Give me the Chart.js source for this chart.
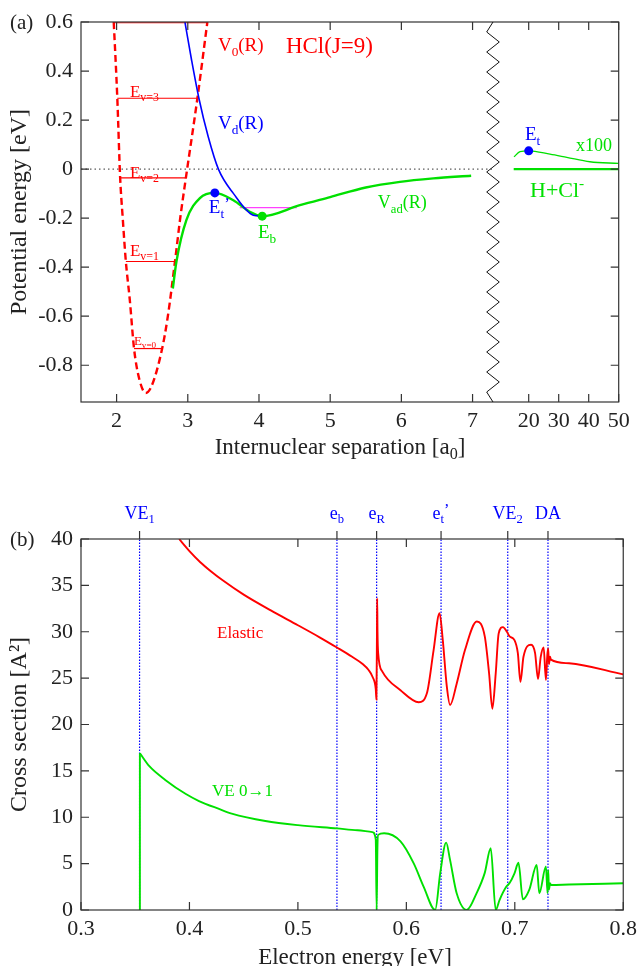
<!DOCTYPE html>
<html>
<head>
<meta charset="utf-8">
<title>HCl potentials and cross sections</title>
<script src="https://cdn.jsdelivr.net/npm/chart.js@4.4.1/dist/chart.umd.min.js"></script>
<style>
  html, body { margin: 0; padding: 0; background: #fff; }
  #wrap { position: relative; width: 643px; height: 966px; overflow: hidden; }
  .box { position: absolute; left: 0; width: 643px; }
  #boxA { top: 0; height: 480px; }
  #boxB { top: 480px; height: 486px; }
</style>
</head>
<body>
<div id="wrap">
  <div class="box" id="boxA"><canvas id="chartA"></canvas></div>
  <div class="box" id="boxB"><canvas id="chartB"></canvas></div>
</div>
<script>
// ---------- look ----------
const SERIF = "'Liberation Serif', 'Times New Roman', serif";
const INK = "#222222";
const FRAME = "#333333";
const RED = "#ff0000";
const GREEN = "#00e000";
const BLUE = "#0000ff";
const MAGENTA = "#ff40ff";
const TICK = 8;

Chart.defaults.font.family = SERIF;
Chart.defaults.color = INK;

// ==========================================
// (a) potential curves: R [a0], energy [eV]
// ==========================================
const xLeftMin = 1.5, xLeftMax = 7.287;   // axis before the break
const xFarMin = 8.1, xFarMax = 50;         // axis after the break
const xTicksA = [2, 3, 4, 5, 6, 7];
const xTicksFar = [20, 30, 40, 50];
const yTicksA = [-0.8, -0.6, -0.4, -0.2, 0, 0.2, 0.4, 0.6];
const yTickLabelsA = ["-0.8", "-0.6", "-0.4", "-0.2", "0", "0.2", "0.4", "0.6"];

// V0(R), neutral HCl(J=9)
const v0R = [1.96, 2.01, 2.05, 2.085, 2.13, 2.185, 2.245, 2.32, 2.41, 2.49, 2.64, 2.72, 2.82, 2.896, 2.973, 3.135, 3.275];
const v0E = [0.60, 0.289, -0.036, -0.195, -0.377, -0.532, -0.732, -0.858, -0.913, -0.886, -0.732, -0.60, -0.377, -0.195, -0.036, 0.289, 0.60];

// vibrational levels v = 0..4
const levelE = [-0.732, -0.377, -0.036, 0.289, 0.597];
const levelRLeft = [2.245, 2.13, 2.05, 2.01, 1.965];
const levelRRight = [2.64, 2.82, 2.97, 3.14, 3.26];

// Vd(R) diabatic anion
const vdR = [2.96, 3.053, 3.156, 3.287, 3.43, 3.64, 3.92, 4.045];
const vdE = [0.60, 0.445, 0.289, 0.132, 0.0, -0.099, -0.188, -0.192];

// Vad(R) adiabatic anion
const vadR = [2.79, 2.84, 2.98, 3.17, 3.38, 3.64, 3.87, 4.045, 4.575, 5.0, 5.5, 5.98, 6.45, 6.98];
const vadE = [-0.487, -0.378, -0.208, -0.118, -0.097, -0.127, -0.174, -0.192, -0.147, -0.114, -0.075, -0.052, -0.038, -0.027];

// resonance level E_R (magenta)
const resR = [3.73, 4.53];
const resE = [-0.157, -0.157];

// marked points E_t' and E_b
const markR = [3.38, 4.045];
const markE = [-0.097, -0.192];

// long range part, Vad x100
const farR = [15.1, 17.1, 20, 27.1, 32.7, 40.4, 49.9];
const farE = [0.050, 0.071, 0.0745, 0.061, 0.048, 0.030, 0.023];
const asymR = [15, 50];
const asymE = [0, 0];
const etR = [20];
const etE = [0.0745];

// ==========================================
// (b) cross sections vs electron energy [eV]
// ==========================================
const xTicksB = [0.3, 0.4, 0.5, 0.6, 0.7, 0.8];
const yTicksB = [0, 5, 10, 15, 20, 25, 30, 35, 40];
const threshE = [0.354, 0.536, 0.5726, 0.632, 0.6935, 0.7306];

const elasticE = [0.3905, 0.40, 0.41, 0.42, 0.43, 0.45, 0.475, 0.5, 0.52, 0.536, 0.55, 0.56, 0.565, 0.569, 0.5718, 0.5724,
  0.5729, 0.5731, 0.5734, 0.574, 0.5779, 0.5946, 0.6114, 0.619, 0.6251, 0.6306, 0.6336, 0.6373, 0.6403, 0.6464, 0.654,
  0.665, 0.6723, 0.6763, 0.6793, 0.6824, 0.6851, 0.6891, 0.6927, 0.6952, 0.6997, 0.7028, 0.7052, 0.708, 0.715, 0.7187,
  0.7214, 0.7239, 0.7266, 0.7287, 0.7300, 0.7308, 0.7315, 0.7325, 0.7333, 0.75, 0.8];
const elasticS = [40.0, 38.7, 37.5, 36.5, 35.6, 34.0, 32.3, 30.7, 29.4, 28.3, 27.3, 26.5, 25.9, 25.1, 23.8, 22.7,
  30.0, 33.6, 30.0, 27.7, 25.7, 23.7, 22.4, 23.4, 28.0, 32.0, 29.1, 24.1, 22.1, 24.4, 28.0,
  31.1, 29.5, 25.5, 21.7, 25.5, 29.8, 30.5, 30.0, 29.5, 29.1, 27.7, 24.6, 27.3, 28.6, 27.7,
  24.9, 27.3, 28.3, 24.8, 27.5, 28.2, 26.5, 27.3, 27.0, 26.6, 25.4];

// VE 0->1 opens at the VE1 threshold (vertical rise drawn separately)
const vibOnsetE = [0.3543, 0.3543];
const vibOnsetS = [0, 16.9];
const vibE = [0.3543, 0.363, 0.378, 0.3967, 0.4088, 0.4272, 0.439, 0.47, 0.5, 0.536, 0.555, 0.5687, 0.5718, 0.5726, 0.5733,
  0.574, 0.5795, 0.5946, 0.6068, 0.616, 0.6266, 0.6312, 0.6367, 0.6403, 0.6464, 0.6556, 0.6647, 0.6723, 0.6778, 0.6824,
  0.686, 0.6921, 0.6952, 0.6997, 0.7034, 0.7074, 0.7134, 0.7202, 0.7226, 0.7287, 0.7302, 0.7308, 0.7315, 0.7325, 0.7333, 0.75, 0.8];
const vibS = [16.9, 15.5, 14.0, 12.5, 11.75, 10.9, 10.4, 9.6, 9.15, 8.8, 8.6, 8.4, 7.6, 0, 6.5,
  8.1, 8.27, 7.4, 5.03, 2.5, 0, 3.95, 7.26, 5.4, 1.8, 0, 1.8, 4.0, 6.65, 0,
  1.1, 2.5, 2.9, 3.95, 5.1, 1.15, 2.2, 4.85, 1.8, 4.7, 1.8, 4.3, 2.2, 2.9, 2.7, 2.75, 2.88];

// ---------- helpers ----------
function pts(xs, ys) { return xs.map((x, i) => ({ x: x, y: ys[i] })); }

function curve(data, color, width, extra) {
  return Object.assign({
    data: data, showLine: true, borderColor: color, backgroundColor: color, borderWidth: width,
    pointRadius: 0, pointHoverRadius: 0, fill: false, cubicInterpolationMode: "monotone"
  }, extra || {});
}

function straight(data, color, width, extra) {
  return curve(data, color, width, Object.assign({ cubicInterpolationMode: "default", tension: 0 }, extra || {}));
}

function dots(data, color, extra) {
  return Object.assign({
    data: data, showLine: false, pointRadius: 4.5, pointHoverRadius: 4.5,
    pointBackgroundColor: color, pointBorderColor: color, pointBorderWidth: 0
  }, extra || {});
}

// text with sub/superscripts; y is the visual middle of the capitals
function drawRich(ctx, parts, x, y, size, color, align) {
  const small = size * 0.7;
  const sizeOf = m => (m === "n" ? size : m === "pr" ? size * 0.9 : small);
  const fontOf = m => sizeOf(m) + "px " + SERIF;
  let w = 0;
  parts.forEach(([t, m]) => { ctx.font = fontOf(m); w += ctx.measureText(t).width; });
  let cx = align === "center" ? x - w / 2 : x;
  const base = y + size * 0.33;
  ctx.fillStyle = color;
  ctx.textAlign = "left";
  ctx.textBaseline = "alphabetic";
  parts.forEach(([t, m]) => {
    ctx.font = fontOf(m);
    const dy = m === "sub" ? size * 0.25 : m === "sup" ? -size * 0.42 : m === "pr" ? -size * 0.22 : 0;
    ctx.fillText(t, cx, base + dy);
    cx += ctx.measureText(t).width;
  });
}

function fixedTicks(list) {
  return s => { s.ticks = list.map(v => ({ value: v })); };
}

// ---------- annotations ----------
const notesA = [
  { axis: "x", x: 3.423, y: 0.506, parts: [["V", "n"], ["0", "sub"], ["(R)", "n"]], color: RED, size: 19 },
  { axis: "x", x: 4.378, y: 0.506, parts: [["HCl(J=9)", "n"]], color: RED, size: 23 },
  { axis: "x", x: 3.423, y: 0.188, parts: [["V", "n"], ["d", "sub"], ["(R)", "n"]], color: BLUE, size: 19 },
  { axis: "x", x: 3.296, y: -0.155, parts: [["E", "n"], ["t", "sub"], ["\u2019", "pr"]], color: BLUE, size: 19 },
  { axis: "x", x: 3.985, y: -0.257, parts: [["E", "n"], ["b", "sub"]], color: GREEN, size: 19 },
  { axis: "x", x: 5.669, y: -0.135, parts: [["V", "n"], ["ad", "sub"], ["(R)", "n"]], color: GREEN, size: 18 },
  { axis: "x", x: 2.187, y: 0.318, parts: [["E", "n"], ["v=3", "sub"]], color: RED, size: 17 },
  { axis: "x", x: 2.187, y: -0.012, parts: [["E", "n"], ["v=2", "sub"]], color: RED, size: 17 },
  { axis: "x", x: 2.187, y: -0.331, parts: [["E", "n"], ["v=1", "sub"]], color: RED, size: 17 },
  { axis: "x", x: 2.243, y: -0.698, parts: [["E", "n"], ["v=0", "sub"]], color: RED, size: 13 },
  { axis: "x2", x: 18.77, y: 0.143, parts: [["E", "n"], ["t", "sub"]], color: BLUE, size: 19 },
  { axis: "x2", x: 35.77, y: 0.098, parts: [["x100", "n"]], color: GREEN, size: 18 },
  { axis: "x2", x: 20.43, y: -0.086, parts: [["H+Cl", "n"], ["-", "sup"]], color: GREEN, size: 22 }
];

const threshNames = [
  [["VE", "n"], ["1", "sub"]],
  [["e", "n"], ["b", "sub"]],
  [["e", "n"], ["R", "sub"]],
  [["e", "n"], ["t", "sub"], ["\u2019", "pr"]],
  [["VE", "n"], ["2", "sub"]],
  [["DA", "n"]]
];

const notesB = [
  { x: 0.4254, y: 29.97, parts: [["Elastic", "n"]], color: RED, size: 17 },
  { x: 0.4208, y: 12.94, parts: [["VE 0\u21921", "n"]], color: GREEN, size: 17 }
];

// ---------- frame, inward ticks, labels ----------
function frameAndYTicks(ctx, a, yScale, list) {
  ctx.strokeStyle = FRAME;
  ctx.lineWidth = 1.2;
  ctx.strokeRect(a.left, a.top, a.right - a.left, a.bottom - a.top);
  ctx.beginPath();
  list.forEach(v => {
    const p = yScale.getPixelForValue(v);
    ctx.moveTo(a.left, p); ctx.lineTo(a.left + TICK, p);
    ctx.moveTo(a.right, p); ctx.lineTo(a.right - TICK, p);
  });
}

function xTicksBoth(ctx, a, xScale, list) {
  list.forEach(v => {
    const p = xScale.getPixelForValue(v);
    ctx.moveTo(p, a.bottom); ctx.lineTo(p, a.bottom - TICK);
    ctx.moveTo(p, a.top); ctx.lineTo(p, a.top + TICK);
  });
}

const panelA = {
  id: "panelA",
  afterDatasetsDraw(chart) {
    const { ctx, chartArea: a, scales } = chart;
    ctx.save();
    frameAndYTicks(ctx, a, scales.y, yTicksA);
    xTicksBoth(ctx, a, scales.x, xTicksA);
    xTicksBoth(ctx, a, scales.x2, xTicksFar);
    ctx.stroke();

    // axis break
    const bx = scales.x2.left, amp = 6.3, half = 9.9;
    const n = Math.round((a.bottom - a.top) / half);
    const step = (a.bottom - a.top) / n;
    ctx.beginPath();
    ctx.lineWidth = 1;
    ctx.strokeStyle = "#111";
    ctx.moveTo(bx, a.top);
    for (let k = 1; k < n; k++) ctx.lineTo(bx + (k % 2 ? -amp : amp), a.top + k * step);
    ctx.lineTo(bx, a.bottom);
    ctx.stroke();

    notesA.forEach(t => drawRich(ctx, t.parts, scales[t.axis].getPixelForValue(t.x),
      scales.y.getPixelForValue(t.y), t.size, t.color, "left"));
    drawRich(ctx, [["(a)", "n"]], 10, 22, 21, INK, "left");
    drawRich(ctx, [["Internuclear separation [a", "n"], ["0", "sub"], ["]", "n"]], 340, 446, 23, INK, "center");
    ctx.restore();
  }
};

const panelB = {
  id: "panelB",
  afterDatasetsDraw(chart) {
    const { ctx, chartArea: a, scales } = chart;
    ctx.save();
    frameAndYTicks(ctx, a, scales.y, yTicksB);
    xTicksBoth(ctx, a, scales.x, xTicksB);
    threshE.forEach(v => {
      const p = scales.x.getPixelForValue(v);
      ctx.moveTo(p, a.top); ctx.lineTo(p, a.top - TICK);
    });
    ctx.stroke();

    threshE.forEach((v, i) => drawRich(ctx, threshNames[i], scales.x.getPixelForValue(v), 33, 18, BLUE, "center"));
    notesB.forEach(t => drawRich(ctx, t.parts, scales.x.getPixelForValue(t.x),
      scales.y.getPixelForValue(t.y), t.size, t.color, "left"));
    drawRich(ctx, [["(b)", "n"]], 10, 59, 21, INK, "left");
    drawRich(ctx, [["Electron energy [eV]", "n"]], 355, 476, 23, INK, "center");
    ctx.restore();
  }
};

const tickFont = { family: SERIF, size: 22 };
const hidden = { grid: { display: false, drawTicks: false }, border: { display: false } };

// ==========================================
// CHART (a)
// ==========================================
new Chart(document.getElementById("chartA"), {
  type: "scatter",
  data: {
    datasets: [
      dots(pts(markR.slice(0, 1), markE.slice(0, 1)), BLUE),
      dots(pts(markR.slice(1), markE.slice(1)), GREEN),
      dots(pts(etR, etE), BLUE, { xAxisID: "x2" }),
      curve(pts(vdR, vdE), BLUE, 1.6),
      curve(pts(vadR, vadE), GREEN, 2.4),
      straight(pts(resR, resE), MAGENTA, 1.3),
      curve(pts(v0R, v0E), RED, 2.4, { borderDash: [7, 4] }),
      ...levelE.map((e, i) => straight(pts([levelRLeft[i], levelRRight[i]], [e, e]), RED, 1.2)),
      straight(pts([xLeftMin, xLeftMax], [0, 0]), "#333", 1, { borderDash: [1.5, 3] }),
      curve(pts(farR, farE), GREEN, 1.3, { xAxisID: "x2" }),
      straight(pts(asymR, asymE), GREEN, 2.2, { xAxisID: "x2" })
    ]
  },
  options: {
    responsive: true,
    maintainAspectRatio: false,
    animation: false,
    layout: { padding: { left: 0, top: 22, right: 24.3, bottom: 0 } },
    plugins: { legend: { display: false }, tooltip: { enabled: false } },
    scales: {
      x: {
        type: "linear", position: "bottom", stack: "R", stackWeight: 412,
        min: xLeftMin, max: xLeftMax, ...hidden,
        afterBuildTicks: fixedTicks(xTicksA),
        afterFit: s => { s.height = 78; },
        ticks: { font: tickFont, padding: 6, autoSkip: false, maxRotation: 0, callback: v => String(v) }
      },
      x2: {
        type: "linear", position: "bottom", stack: "R", stackWeight: 125.7,
        min: xFarMin, max: xFarMax, ...hidden,
        afterBuildTicks: fixedTicks(xTicksFar),
        afterFit: s => { s.height = 78; },
        ticks: { font: tickFont, padding: 6, autoSkip: false, maxRotation: 0, callback: v => String(v) }
      },
      y: {
        type: "linear", min: -0.95, max: 0.6, ...hidden,
        afterBuildTicks: fixedTicks(yTicksA),
        afterFit: s => { s.width = 81; },
        ticks: { font: tickFont, padding: 8, autoSkip: false,
          callback: v => yTickLabelsA[yTicksA.indexOf(v)] },
        title: { display: true, text: "Potential energy [eV]", font: { family: SERIF, size: 24 },
          color: INK, padding: { top: 5, bottom: 0 } }
      }
    }
  },
  plugins: [panelA]
});

// ==========================================
// CHART (b)
// ==========================================
new Chart(document.getElementById("chartB"), {
  type: "scatter",
  data: {
    datasets: [
      straight(pts(vibOnsetE, vibOnsetS), GREEN, 1.9),
      curve(pts(vibE, vibS), GREEN, 1.9),
      curve(pts(elasticE, elasticS), RED, 1.9),
      ...threshE.map(e => straight(pts([e, e], [0, 40]), BLUE, 1.2, { borderDash: [1.5, 1.5] }))
    ]
  },
  options: {
    responsive: true,
    maintainAspectRatio: false,
    animation: false,
    layout: { padding: { left: 0, top: 0, right: 14.7, bottom: 0 } },
    plugins: { legend: { display: false }, tooltip: { enabled: false } },
    scales: {
      x: {
        type: "linear", position: "bottom", min: 0.3, max: 0.8, ...hidden,
        afterBuildTicks: fixedTicks(xTicksB),
        afterFit: s => { s.height = 56; },
        ticks: { font: tickFont, padding: 6, autoSkip: false, maxRotation: 0, callback: v => v.toFixed(1) }
      },
      xTop: {
        type: "linear", position: "top", min: 0.3, max: 0.8, ...hidden,
        afterFit: s => { s.height = 59; },
        ticks: { display: false }
      },
      y: {
        type: "linear", min: 0, max: 40, ...hidden,
        afterBuildTicks: fixedTicks(yTicksB),
        afterFit: s => { s.width = 81; },
        ticks: { font: tickFont, padding: 8, autoSkip: false, callback: v => String(v) },
        title: { display: true, text: "Cross section [A\u00b2]", font: { family: SERIF, size: 24 },
          color: INK, padding: { top: 5, bottom: 0 } }
      }
    }
  },
  plugins: [panelB]
});
</script>
</body>
</html>
